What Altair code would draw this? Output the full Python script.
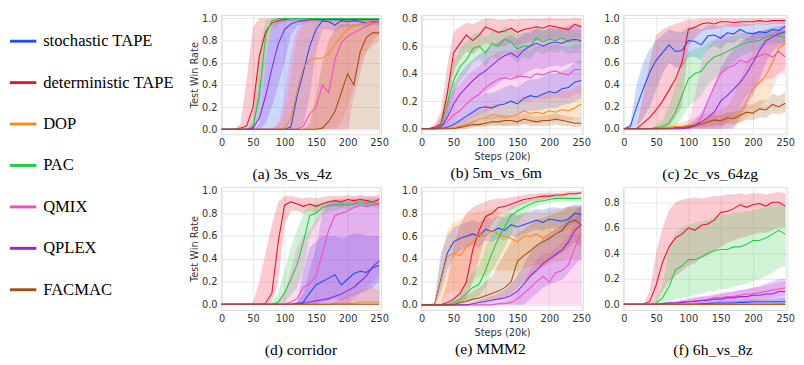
import altair as alt
import pandas as pd

SERIES = ["stochastic TAPE", "deterministic TAPE", "DOP", "PAC", "QMIX", "QPLEX", "FACMAC"]
KEYS = ["blue", "red", "orange", "green", "pink", "purple", "brown"]
COLORS = ["#1f4ff0", "#e8112d", "#ff8a1f", "#27c944", "#f04fc1", "#8a2be2", "#a24f15"]
STEPS = [0, 10, 20, 30, 40, 50, 60, 70, 80, 90, 100, 110, 120, 130, 140, 150, 160, 170, 180, 190, 200, 210, 220, 230, 240, 250]
X_TICKS = [0, 50, 100, 150, 200, 250]

# ---------------- (a) 3s_vs_4z ----------------
a_blue = [0, 0, 0, 0, 0, 0, 0, 0, 0, 0, 0, 0.02, 0.3, 0.52, 0.75, 0.9, 0.98, 0.97, 0.94, 0.98, 0.97, 0.98, 0.97, 0.96, 0.97, 0.97]
a_blue_lo = [0, 0, 0, 0, 0, 0, 0, 0, 0, 0, 0, 0, 0, 0.05, 0.3, 0.7, 0.9, 0.9, 0.88, 0.92, 0.92, 0.93, 0.93, 0.93, 0.94, 0.94]
a_blue_hi = [0, 0, 0, 0, 0, 0, 0.05, 0.6, 0.95, 1, 1, 1, 1, 1, 1, 1, 1, 1, 1, 1, 1, 1, 1, 1, 1, 1]
a_red = [0, 0, 0, 0.01, 0.03, 0.2, 0.66, 0.88, 0.96, 0.98, 0.99, 1, 1, 1, 1, 1, 1, 1, 1, 1, 1, 1, 1, 1, 1, 1]
a_red_lo = [0, 0, 0, 0, 0, 0, 0.3, 0.7, 0.9, 0.95, 0.97, 0.98, 0.98, 0.98, 0.98, 0.98, 0.98, 0.98, 0.98, 0.98, 0.98, 0.98, 0.98, 0.98, 0.98, 0.98]
a_red_hi = [0, 0, 0, 0.05, 0.45, 0.92, 1, 1, 1, 1, 1, 1, 1, 1, 1, 1, 1, 1, 1, 1, 1, 1, 1, 1, 1, 1]
a_orange = [0, 0, 0, 0, 0, 0, 0, 0, 0, 0, 0.01, 0.1, 0.35, 0.56, 0.62, 0.64, 0.64, 0.68, 0.76, 0.84, 0.9, 0.93, 0.95, 0.96, 0.96, 0.95]
a_orange_lo = [0, 0, 0, 0, 0, 0, 0, 0, 0, 0, 0, 0, 0, 0, 0, 0, 0, 0, 0, 0.05, 0.2, 0.4, 0.6, 0.7, 0.75, 0.8]
a_orange_hi = [0, 0, 0, 0, 0, 0, 0, 0, 0, 0.05, 0.15, 0.5, 0.85, 0.95, 1, 1, 1, 1, 1, 1, 1, 1, 1, 1, 1, 1]
a_green = [0, 0, 0, 0, 0, 0.02, 0.3, 0.85, 0.98, 1, 1, 1, 1, 1, 1, 1, 1, 1, 1, 1, 1, 1, 1, 1, 1, 1]
a_green_lo = [0, 0, 0, 0, 0, 0, 0.1, 0.6, 0.93, 0.98, 0.98, 0.98, 0.98, 0.98, 0.98, 0.98, 0.98, 0.98, 0.98, 0.98, 0.98, 0.98, 0.98, 0.98, 0.98, 0.98]
a_green_hi = [0, 0, 0, 0, 0, 0.1, 0.7, 0.98, 1, 1, 1, 1, 1, 1, 1, 1, 1, 1, 1, 1, 1, 1, 1, 1, 1, 1]
a_pink = [0, 0, 0, 0, 0, 0, 0, 0, 0, 0, 0, 0, 0, 0.03, 0.14, 0.2, 0.4, 0.33, 0.63, 0.78, 0.84, 0.87, 0.9, 0.93, 0.96, 0.97]
a_pink_lo = [0, 0, 0, 0, 0, 0, 0, 0, 0, 0, 0, 0, 0, 0, 0, 0, 0, 0, 0, 0, 0, 0.3, 0.5, 0.7, 0.8, 0.85]
a_pink_hi = [0, 0, 0, 0, 0, 0, 0, 0, 0, 0.05, 0.3, 0.7, 0.9, 0.98, 0.98, 0.98, 0.98, 0.98, 0.98, 0.98, 0.98, 0.98, 0.98, 0.98, 0.98, 0.98]
a_purple = [0, 0, 0, 0, 0, 0.01, 0.1, 0.3, 0.55, 0.77, 0.9, 0.95, 0.97, 0.98, 0.99, 0.99, 0.99, 0.99, 0.99, 0.99, 0.99, 0.99, 0.99, 0.99, 0.99, 0.99]
a_purple_lo = [0, 0, 0, 0, 0, 0, 0, 0.05, 0.2, 0.4, 0.6, 0.85, 0.93, 0.95, 0.97, 0.97, 0.97, 0.97, 0.97, 0.97, 0.97, 0.97, 0.97, 0.97, 0.97, 0.97]
a_purple_hi = [0, 0, 0, 0, 0, 0.05, 0.4, 0.7, 0.9, 0.98, 1, 1, 1, 1, 1, 1, 1, 1, 1, 1, 1, 1, 1, 1, 1, 1]
a_brown = [0, 0, 0, 0, 0, 0, 0, 0, 0, 0, 0, 0, 0, 0, 0, 0, 0.01, 0.07, 0.16, 0.33, 0.5, 0.4, 0.7, 0.83, 0.87, 0.87]
a_brown_lo = [0, 0, 0, 0, 0, 0, 0, 0, 0, 0, 0, 0, 0, 0, 0, 0, 0, 0, 0, 0, 0, 0, 0, 0, 0, 0]
a_brown_hi = [0, 0, 0, 0, 0, 0, 0, 0, 0, 0, 0, 0, 0, 0, 0.05, 0.3, 0.6, 0.8, 0.9, 0.95, 0.95, 0.95, 0.95, 0.95, 0.95, 0.95]

# ---------------- (b) 5m_vs_6m ----------------
b_blue = [0, 0, 0, 0, 0.01, 0.03, 0.06, 0.09, 0.12, 0.15, 0.16, 0.15, 0.17, 0.18, 0.2, 0.18, 0.22, 0.24, 0.23, 0.25, 0.27, 0.26, 0.29, 0.3, 0.34, 0.35]
b_blue_lo = [0, 0, 0, 0, 0, 0, 0.01, 0.02, 0.04, 0.06, 0.07, 0.07, 0.08, 0.09, 0.1, 0.1, 0.12, 0.13, 0.13, 0.14, 0.15, 0.15, 0.17, 0.18, 0.2, 0.22]
b_blue_hi = [0, 0, 0, 0.01, 0.03, 0.07, 0.12, 0.16, 0.2, 0.24, 0.26, 0.26, 0.28, 0.3, 0.32, 0.3, 0.34, 0.36, 0.36, 0.38, 0.4, 0.4, 0.42, 0.44, 0.48, 0.5]
b_red = [0, 0, 0.01, 0.03, 0.25, 0.55, 0.62, 0.68, 0.64, 0.68, 0.74, 0.72, 0.7, 0.71, 0.73, 0.7, 0.72, 0.73, 0.74, 0.73, 0.75, 0.74, 0.73, 0.72, 0.76, 0.74]
b_red_lo = [0, 0, 0, 0, 0.1, 0.42, 0.5, 0.56, 0.54, 0.58, 0.62, 0.6, 0.6, 0.6, 0.62, 0.6, 0.62, 0.63, 0.64, 0.64, 0.65, 0.65, 0.65, 0.64, 0.66, 0.65]
b_red_hi = [0, 0, 0.03, 0.12, 0.45, 0.7, 0.74, 0.77, 0.76, 0.78, 0.8, 0.8, 0.79, 0.79, 0.8, 0.79, 0.8, 0.8, 0.8, 0.8, 0.81, 0.8, 0.8, 0.8, 0.81, 0.8]
b_orange = [0, 0, 0, 0, 0, 0.01, 0.02, 0.03, 0.05, 0.07, 0.08, 0.1, 0.1, 0.08, 0.09, 0.1, 0.13, 0.11, 0.12, 0.11, 0.13, 0.12, 0.14, 0.13, 0.15, 0.18]
b_orange_lo = [0, 0, 0, 0, 0, 0, 0, 0, 0.01, 0.02, 0.02, 0.03, 0.03, 0.02, 0.03, 0.03, 0.04, 0.04, 0.04, 0.04, 0.05, 0.05, 0.06, 0.06, 0.07, 0.08]
b_orange_hi = [0, 0, 0, 0, 0.01, 0.03, 0.05, 0.07, 0.1, 0.13, 0.15, 0.18, 0.18, 0.17, 0.18, 0.2, 0.24, 0.22, 0.24, 0.24, 0.26, 0.25, 0.28, 0.27, 0.3, 0.32]
b_green = [0, 0, 0, 0.02, 0.18, 0.35, 0.45, 0.5, 0.58, 0.6, 0.55, 0.62, 0.6, 0.65, 0.63, 0.58, 0.6, 0.6, 0.66, 0.63, 0.65, 0.64, 0.66, 0.63, 0.64, 0.63]
b_green_lo = [0, 0, 0, 0, 0.08, 0.25, 0.35, 0.4, 0.48, 0.5, 0.45, 0.52, 0.5, 0.55, 0.52, 0.48, 0.52, 0.5, 0.56, 0.54, 0.56, 0.55, 0.57, 0.54, 0.55, 0.55]
b_green_hi = [0, 0, 0.01, 0.06, 0.3, 0.48, 0.58, 0.63, 0.68, 0.7, 0.66, 0.71, 0.7, 0.74, 0.72, 0.68, 0.7, 0.69, 0.74, 0.72, 0.73, 0.72, 0.74, 0.72, 0.72, 0.71]
b_pink = [0, 0, 0, 0.01, 0.05, 0.1, 0.13, 0.18, 0.22, 0.25, 0.3, 0.33, 0.36, 0.37, 0.36, 0.38, 0.38, 0.37, 0.4, 0.39, 0.41, 0.42, 0.4, 0.39, 0.43, 0.43]
b_pink_lo = [0, 0, 0, 0, 0, 0.02, 0.03, 0.05, 0.08, 0.1, 0.12, 0.15, 0.17, 0.18, 0.18, 0.2, 0.2, 0.2, 0.22, 0.21, 0.22, 0.23, 0.22, 0.22, 0.25, 0.25]
b_pink_hi = [0, 0, 0.02, 0.08, 0.2, 0.28, 0.32, 0.38, 0.42, 0.45, 0.5, 0.53, 0.56, 0.57, 0.56, 0.58, 0.58, 0.57, 0.6, 0.59, 0.61, 0.62, 0.6, 0.59, 0.62, 0.62]
b_purple = [0, 0, 0, 0.01, 0.08, 0.18, 0.25, 0.3, 0.35, 0.39, 0.42, 0.46, 0.5, 0.53, 0.55, 0.52, 0.57, 0.6, 0.62, 0.6, 0.62, 0.63, 0.62, 0.64, 0.65, 0.64]
b_purple_lo = [0, 0, 0, 0, 0.02, 0.07, 0.12, 0.16, 0.2, 0.24, 0.27, 0.3, 0.33, 0.36, 0.38, 0.36, 0.4, 0.42, 0.44, 0.43, 0.45, 0.46, 0.45, 0.47, 0.48, 0.47]
b_purple_hi = [0, 0, 0.01, 0.04, 0.18, 0.32, 0.4, 0.46, 0.5, 0.54, 0.57, 0.6, 0.63, 0.66, 0.68, 0.65, 0.69, 0.71, 0.73, 0.71, 0.73, 0.74, 0.73, 0.75, 0.76, 0.75]
b_brown = [0, 0, 0, 0, 0, 0, 0.01, 0.02, 0.03, 0.03, 0.04, 0.05, 0.05, 0.06, 0.06, 0.05, 0.07, 0.06, 0.05, 0.06, 0.06, 0.07, 0.06, 0.05, 0.04, 0.04]
b_brown_lo = [0, 0, 0, 0, 0, 0, 0, 0, 0.01, 0.01, 0.01, 0.02, 0.02, 0.02, 0.02, 0.02, 0.03, 0.02, 0.02, 0.02, 0.02, 0.03, 0.02, 0.02, 0.01, 0.01]
b_brown_hi = [0, 0, 0, 0, 0, 0.01, 0.02, 0.04, 0.05, 0.06, 0.07, 0.08, 0.09, 0.1, 0.1, 0.09, 0.11, 0.1, 0.09, 0.1, 0.1, 0.11, 0.1, 0.09, 0.08, 0.08]

# ---------------- (c) 2c_vs_64zg ----------------
c_blue = [0, 0.02, 0.2, 0.36, 0.51, 0.62, 0.69, 0.76, 0.7, 0.71, 0.8, 0.79, 0.76, 0.84, 0.85, 0.82, 0.87, 0.86, 0.9, 0.87, 0.86, 0.88, 0.87, 0.9, 0.89, 0.93]
c_blue_lo = [0, 0, 0.02, 0.1, 0.2, 0.35, 0.5, 0.6, 0.55, 0.55, 0.65, 0.65, 0.62, 0.72, 0.75, 0.72, 0.78, 0.78, 0.82, 0.8, 0.8, 0.82, 0.82, 0.84, 0.84, 0.86]
c_blue_hi = [0, 0.05, 0.4, 0.6, 0.72, 0.8, 0.85, 0.9, 0.88, 0.88, 0.92, 0.92, 0.9, 0.94, 0.94, 0.93, 0.95, 0.95, 0.96, 0.95, 0.95, 0.96, 0.95, 0.96, 0.96, 0.97]
c_red = [0, 0, 0, 0.05, 0.1, 0.17, 0.25, 0.35, 0.45, 0.6, 0.9, 0.92, 0.95, 0.96, 0.95, 0.97, 0.97, 0.96, 0.97, 0.97, 0.97, 0.98, 0.97, 0.98, 0.98, 0.98]
c_red_lo = [0, 0, 0, 0, 0, 0, 0, 0.02, 0.1, 0.2, 0.75, 0.82, 0.88, 0.9, 0.9, 0.92, 0.93, 0.92, 0.93, 0.93, 0.94, 0.95, 0.94, 0.95, 0.95, 0.95]
c_red_hi = [0, 0, 0.02, 0.3, 0.6, 0.85, 0.9, 0.93, 0.95, 0.97, 0.99, 0.99, 1, 1, 1, 1, 1, 1, 1, 1, 1, 1, 1, 1, 1, 1]
c_orange = [0, 0, 0, 0, 0, 0, 0.01, 0.01, 0.02, 0.02, 0.03, 0.04, 0.05, 0.06, 0.07, 0.08, 0.08, 0.1, 0.15, 0.25, 0.36, 0.42, 0.48, 0.6, 0.73, 0.77]
c_orange_lo = [0, 0, 0, 0, 0, 0, 0, 0, 0, 0, 0, 0, 0, 0, 0, 0, 0, 0.02, 0.05, 0.1, 0.15, 0.2, 0.25, 0.35, 0.5, 0.55]
c_orange_hi = [0, 0, 0, 0, 0, 0.01, 0.02, 0.03, 0.05, 0.06, 0.08, 0.1, 0.12, 0.14, 0.16, 0.18, 0.2, 0.3, 0.45, 0.6, 0.7, 0.75, 0.8, 0.85, 0.9, 0.92]
c_green = [0, 0, 0, 0, 0, 0.01, 0.02, 0.05, 0.15, 0.3, 0.45, 0.5, 0.52, 0.6, 0.65, 0.67, 0.7, 0.73, 0.76, 0.78, 0.79, 0.8, 0.83, 0.85, 0.84, 0.83]
c_green_lo = [0, 0, 0, 0, 0, 0, 0, 0, 0.02, 0.1, 0.2, 0.25, 0.3, 0.4, 0.45, 0.5, 0.55, 0.6, 0.65, 0.68, 0.7, 0.72, 0.75, 0.77, 0.77, 0.76]
c_green_hi = [0, 0, 0, 0, 0, 0.03, 0.08, 0.2, 0.4, 0.6, 0.7, 0.72, 0.74, 0.78, 0.8, 0.8, 0.82, 0.84, 0.86, 0.87, 0.87, 0.88, 0.9, 0.91, 0.9, 0.9]
c_pink = [0, 0, 0, 0, 0, 0, 0, 0, 0, 0, 0, 0.02, 0.1, 0.25, 0.38, 0.5, 0.55, 0.57, 0.62, 0.6, 0.64, 0.66, 0.68, 0.65, 0.7, 0.65]
c_pink_lo = [0, 0, 0, 0, 0, 0, 0, 0, 0, 0, 0, 0, 0, 0, 0, 0, 0.05, 0.1, 0.2, 0.3, 0.35, 0.4, 0.45, 0.45, 0.5, 0.5]
c_pink_hi = [0, 0, 0, 0, 0, 0, 0, 0, 0, 0.02, 0.05, 0.3, 0.6, 0.75, 0.8, 0.85, 0.86, 0.86, 0.88, 0.87, 0.88, 0.88, 0.89, 0.88, 0.9, 0.88]
c_purple = [0, 0, 0, 0, 0, 0, 0, 0, 0, 0, 0.01, 0.03, 0.06, 0.1, 0.15, 0.25, 0.3, 0.36, 0.42, 0.5, 0.6, 0.71, 0.8, 0.83, 0.86, 0.88]
c_purple_lo = [0, 0, 0, 0, 0, 0, 0, 0, 0, 0, 0, 0, 0, 0, 0, 0, 0, 0, 0.1, 0.2, 0.3, 0.45, 0.6, 0.7, 0.75, 0.78]
c_purple_hi = [0, 0, 0, 0, 0, 0, 0, 0, 0, 0.01, 0.03, 0.08, 0.15, 0.25, 0.4, 0.55, 0.65, 0.72, 0.78, 0.82, 0.85, 0.88, 0.9, 0.92, 0.93, 0.94]
c_brown = [0, 0, 0, 0, 0, 0, 0, 0, 0.01, 0.01, 0.02, 0.03, 0.04, 0.06, 0.08, 0.07, 0.1, 0.09, 0.12, 0.15, 0.14, 0.18, 0.17, 0.22, 0.2, 0.23]
c_brown_lo = [0, 0, 0, 0, 0, 0, 0, 0, 0, 0, 0, 0.01, 0.01, 0.02, 0.03, 0.03, 0.05, 0.04, 0.06, 0.08, 0.08, 0.1, 0.1, 0.14, 0.13, 0.15]
c_brown_hi = [0, 0, 0, 0, 0, 0, 0, 0, 0.02, 0.03, 0.04, 0.05, 0.07, 0.1, 0.13, 0.12, 0.15, 0.15, 0.18, 0.22, 0.22, 0.26, 0.26, 0.32, 0.3, 0.33]

# ---------------- (d) corridor ----------------
d_blue = [0, 0, 0, 0, 0, 0, 0, 0, 0, 0, 0, 0, 0, 0.02, 0.1, 0.17, 0.2, 0.23, 0.26, 0.17, 0.22, 0.27, 0.29, 0.28, 0.32, 0.34]
d_blue_lo = [0, 0, 0, 0, 0, 0, 0, 0, 0, 0, 0, 0, 0, 0, 0, 0, 0.02, 0.03, 0.05, 0.03, 0.05, 0.08, 0.1, 0.12, 0.15, 0.2]
d_blue_hi = [0, 0, 0, 0, 0, 0, 0, 0, 0, 0, 0, 0, 0.02, 0.3, 0.5, 0.55, 0.6, 0.6, 0.6, 0.58, 0.6, 0.62, 0.62, 0.6, 0.6, 0.6]
d_red = [0, 0, 0, 0, 0, 0, 0, 0.01, 0.1, 0.55, 0.87, 0.9, 0.88, 0.86, 0.88, 0.86, 0.88, 0.9, 0.91, 0.9, 0.92, 0.91, 0.92, 0.91, 0.9, 0.92]
d_red_lo = [0, 0, 0, 0, 0, 0, 0, 0, 0.02, 0.2, 0.7, 0.82, 0.82, 0.8, 0.82, 0.8, 0.83, 0.85, 0.86, 0.85, 0.87, 0.87, 0.88, 0.87, 0.86, 0.88]
d_red_hi = [0, 0, 0, 0, 0, 0.02, 0.2, 0.45, 0.7, 0.9, 0.95, 0.95, 0.94, 0.93, 0.94, 0.93, 0.94, 0.95, 0.95, 0.95, 0.96, 0.95, 0.96, 0.95, 0.95, 0.96]
d_orange = [0, 0, 0, 0, 0, 0, 0, 0, 0, 0, 0, 0, 0, 0, 0, 0, 0, 0, 0.01, 0.01, 0.01, 0.01, 0.02, 0.02, 0.02, 0.02]
d_orange_lo = [0, 0, 0, 0, 0, 0, 0, 0, 0, 0, 0, 0, 0, 0, 0, 0, 0, 0, 0, 0, 0, 0, 0, 0, 0, 0]
d_orange_hi = [0, 0, 0, 0, 0, 0, 0, 0, 0, 0, 0, 0, 0, 0, 0, 0, 0, 0, 0.03, 0.05, 0.08, 0.1, 0.12, 0.15, 0.15, 0.12]
d_green = [0, 0, 0, 0, 0, 0, 0, 0, 0, 0.02, 0.1, 0.22, 0.35, 0.55, 0.78, 0.8, 0.85, 0.87, 0.87, 0.88, 0.87, 0.88, 0.9, 0.88, 0.9, 0.87]
d_green_lo = [0, 0, 0, 0, 0, 0, 0, 0, 0, 0, 0.02, 0.08, 0.15, 0.3, 0.6, 0.7, 0.78, 0.82, 0.82, 0.84, 0.83, 0.84, 0.86, 0.84, 0.86, 0.83]
d_green_hi = [0, 0, 0, 0, 0, 0, 0, 0, 0.02, 0.1, 0.3, 0.5, 0.65, 0.8, 0.88, 0.88, 0.9, 0.91, 0.91, 0.92, 0.91, 0.92, 0.93, 0.92, 0.93, 0.91]
d_pink = [0, 0, 0, 0, 0, 0, 0, 0, 0, 0, 0, 0.02, 0.05, 0.15, 0.18, 0.25, 0.45, 0.65, 0.78, 0.8, 0.82, 0.85, 0.87, 0.86, 0.87, 0.88]
d_pink_lo = [0, 0, 0, 0, 0, 0, 0, 0, 0, 0, 0, 0, 0, 0, 0, 0, 0, 0, 0, 0, 0, 0.05, 0.1, 0.15, 0.2, 0.25]
d_pink_hi = [0, 0, 0, 0, 0, 0, 0, 0, 0, 0.02, 0.1, 0.3, 0.5, 0.6, 0.65, 0.75, 0.85, 0.9, 0.92, 0.93, 0.93, 0.94, 0.94, 0.94, 0.94, 0.94]
d_purple = [0, 0, 0, 0, 0, 0, 0, 0, 0, 0, 0, 0, 0.01, 0.01, 0.02, 0.03, 0.04, 0.05, 0.07, 0.09, 0.12, 0.15, 0.2, 0.25, 0.33, 0.38]
d_purple_lo = [0, 0, 0, 0, 0, 0, 0, 0, 0, 0, 0, 0, 0, 0, 0, 0, 0, 0, 0, 0, 0, 0, 0, 0, 0, 0]
d_purple_hi = [0, 0, 0, 0, 0, 0, 0, 0, 0, 0, 0, 0, 0.02, 0.1, 0.3, 0.5, 0.8, 0.88, 0.9, 0.9, 0.9, 0.9, 0.9, 0.9, 0.9, 0.9]
d_brown = [0, 0, 0, 0, 0, 0, 0, 0, 0, 0, 0, 0, 0, 0, 0, 0, 0, 0, 0, 0, 0, 0, 0, 0, 0, 0]
d_brown_lo = [0, 0, 0, 0, 0, 0, 0, 0, 0, 0, 0, 0, 0, 0, 0, 0, 0, 0, 0, 0, 0, 0, 0, 0, 0, 0]
d_brown_hi = [0, 0, 0, 0, 0, 0, 0, 0, 0, 0, 0, 0, 0, 0, 0, 0, 0, 0, 0, 0, 0, 0, 0, 0, 0, 0]

# ---------------- (e) MMM2 ----------------
e_blue = [0, 0, 0, 0.22, 0.45, 0.55, 0.58, 0.6, 0.62, 0.6, 0.66, 0.64, 0.67, 0.65, 0.7, 0.68, 0.7, 0.72, 0.74, 0.72, 0.75, 0.74, 0.73, 0.75, 0.8, 0.79]
e_blue_lo = [0, 0, 0, 0.1, 0.3, 0.42, 0.47, 0.5, 0.52, 0.5, 0.56, 0.55, 0.58, 0.56, 0.6, 0.6, 0.62, 0.64, 0.66, 0.65, 0.67, 0.67, 0.66, 0.68, 0.72, 0.72]
e_blue_hi = [0, 0, 0.02, 0.45, 0.6, 0.68, 0.7, 0.72, 0.74, 0.72, 0.77, 0.75, 0.78, 0.76, 0.8, 0.78, 0.8, 0.82, 0.84, 0.83, 0.85, 0.85, 0.84, 0.86, 0.88, 0.87]
e_red = [0, 0, 0, 0, 0.02, 0.05, 0.1, 0.2, 0.48, 0.65, 0.77, 0.8, 0.85, 0.86, 0.88, 0.9, 0.92, 0.93, 0.94, 0.95, 0.95, 0.96, 0.96, 0.97, 0.97, 0.98]
e_red_lo = [0, 0, 0, 0, 0, 0, 0.02, 0.05, 0.2, 0.4, 0.6, 0.7, 0.78, 0.8, 0.83, 0.86, 0.88, 0.9, 0.91, 0.92, 0.93, 0.94, 0.94, 0.95, 0.95, 0.96]
e_red_hi = [0, 0, 0, 0.02, 0.2, 0.5, 0.7, 0.8, 0.85, 0.88, 0.9, 0.92, 0.93, 0.93, 0.94, 0.95, 0.96, 0.97, 0.97, 0.98, 0.98, 0.98, 0.98, 0.99, 0.99, 0.99]
e_orange = [0, 0, 0, 0.2, 0.42, 0.45, 0.43, 0.5, 0.55, 0.62, 0.6, 0.65, 0.62, 0.6, 0.58, 0.55, 0.6, 0.6, 0.62, 0.58, 0.62, 0.65, 0.64, 0.67, 0.67, 0.66]
e_orange_lo = [0, 0, 0, 0.02, 0.1, 0.12, 0.12, 0.15, 0.2, 0.25, 0.25, 0.3, 0.3, 0.3, 0.3, 0.3, 0.32, 0.33, 0.35, 0.33, 0.36, 0.38, 0.38, 0.4, 0.4, 0.4]
e_orange_hi = [0, 0, 0.02, 0.4, 0.65, 0.72, 0.74, 0.78, 0.8, 0.82, 0.82, 0.84, 0.82, 0.8, 0.8, 0.78, 0.8, 0.8, 0.82, 0.8, 0.82, 0.84, 0.84, 0.86, 0.86, 0.86]
e_green = [0, 0, 0, 0, 0, 0.02, 0.05, 0.1, 0.15, 0.18, 0.3, 0.45, 0.58, 0.68, 0.78, 0.82, 0.85, 0.88, 0.9, 0.91, 0.92, 0.93, 0.93, 0.93, 0.93, 0.93]
e_green_lo = [0, 0, 0, 0, 0, 0, 0.01, 0.03, 0.06, 0.08, 0.15, 0.28, 0.4, 0.5, 0.62, 0.72, 0.78, 0.83, 0.86, 0.88, 0.89, 0.9, 0.9, 0.9, 0.9, 0.9]
e_green_hi = [0, 0, 0, 0, 0.01, 0.05, 0.1, 0.2, 0.28, 0.35, 0.5, 0.62, 0.72, 0.8, 0.86, 0.88, 0.9, 0.92, 0.93, 0.94, 0.95, 0.95, 0.95, 0.95, 0.95, 0.95]
e_pink = [0, 0, 0, 0, 0, 0, 0, 0, 0, 0, 0, 0, 0.01, 0.01, 0.02, 0.05, 0.1, 0.15, 0.2, 0.25, 0.2, 0.28, 0.3, 0.35, 0.5, 0.62]
e_pink_lo = [0, 0, 0, 0, 0, 0, 0, 0, 0, 0, 0, 0, 0, 0, 0, 0, 0, 0, 0, 0, 0, 0, 0, 0, 0, 0]
e_pink_hi = [0, 0, 0, 0, 0, 0, 0, 0, 0, 0, 0, 0, 0.02, 0.03, 0.05, 0.12, 0.2, 0.3, 0.4, 0.45, 0.45, 0.5, 0.55, 0.6, 0.75, 0.85]
e_purple = [0, 0, 0, 0, 0, 0, 0, 0, 0.01, 0.02, 0.03, 0.04, 0.05, 0.06, 0.08, 0.12, 0.18, 0.25, 0.3, 0.36, 0.4, 0.44, 0.48, 0.55, 0.65, 0.7]
e_purple_lo = [0, 0, 0, 0, 0, 0, 0, 0, 0, 0, 0, 0, 0, 0, 0, 0, 0, 0.05, 0.1, 0.15, 0.18, 0.2, 0.22, 0.28, 0.35, 0.4]
e_purple_hi = [0, 0, 0, 0, 0, 0, 0, 0, 0.02, 0.04, 0.06, 0.08, 0.1, 0.13, 0.18, 0.25, 0.35, 0.45, 0.52, 0.58, 0.62, 0.66, 0.7, 0.75, 0.82, 0.88]
e_brown = [0, 0, 0, 0, 0, 0, 0.02, 0.03, 0.05, 0.06, 0.08, 0.1, 0.12, 0.15, 0.2, 0.38, 0.43, 0.47, 0.52, 0.55, 0.58, 0.62, 0.65, 0.72, 0.74, 0.7]
e_brown_lo = [0, 0, 0, 0, 0, 0, 0, 0.01, 0.02, 0.02, 0.03, 0.04, 0.05, 0.06, 0.08, 0.15, 0.2, 0.25, 0.3, 0.33, 0.38, 0.42, 0.45, 0.5, 0.55, 0.5]
e_brown_hi = [0, 0, 0, 0, 0, 0.02, 0.05, 0.08, 0.12, 0.15, 0.2, 0.25, 0.35, 0.45, 0.55, 0.62, 0.66, 0.7, 0.74, 0.76, 0.78, 0.8, 0.82, 0.85, 0.86, 0.85]

# ---------------- (f) 6h_vs_8z ----------------
f_blue = [0, 0, 0, 0, 0, 0, 0, 0, 0, 0, 0, 0, 0.005, 0.005, 0.01, 0.01, 0.01, 0.01, 0.015, 0.015, 0.02, 0.02, 0.02, 0.02, 0.02, 0.02]
f_blue_lo = [0, 0, 0, 0, 0, 0, 0, 0, 0, 0, 0, 0, 0, 0, 0, 0, 0, 0, 0, 0, 0, 0, 0, 0, 0, 0]
f_blue_hi = [0, 0, 0, 0, 0, 0, 0, 0, 0, 0, 0.01, 0.01, 0.02, 0.02, 0.02, 0.03, 0.03, 0.03, 0.03, 0.04, 0.04, 0.04, 0.04, 0.04, 0.05, 0.05]
f_red = [0, 0, 0, 0, 0.02, 0.15, 0.33, 0.45, 0.52, 0.55, 0.6, 0.58, 0.62, 0.63, 0.66, 0.72, 0.73, 0.75, 0.78, 0.76, 0.78, 0.79, 0.77, 0.8, 0.8, 0.77]
f_red_lo = [0, 0, 0, 0, 0, 0.02, 0.1, 0.18, 0.22, 0.26, 0.3, 0.32, 0.36, 0.38, 0.42, 0.45, 0.48, 0.5, 0.52, 0.53, 0.55, 0.56, 0.56, 0.58, 0.6, 0.6]
f_red_hi = [0, 0, 0, 0, 0.1, 0.4, 0.6, 0.74, 0.8, 0.82, 0.83, 0.84, 0.83, 0.84, 0.85, 0.85, 0.86, 0.86, 0.87, 0.86, 0.87, 0.87, 0.86, 0.87, 0.88, 0.87]
f_orange = [0, 0, 0, 0, 0, 0, 0, 0, 0, 0, 0, 0, 0, 0, 0, 0, 0, 0, 0, 0, 0, 0, 0, 0, 0, 0]
f_orange_lo = [0, 0, 0, 0, 0, 0, 0, 0, 0, 0, 0, 0, 0, 0, 0, 0, 0, 0, 0, 0, 0, 0, 0, 0, 0, 0]
f_orange_hi = [0, 0, 0, 0, 0, 0, 0, 0, 0, 0, 0, 0, 0, 0, 0, 0, 0, 0, 0, 0, 0, 0, 0, 0, 0, 0]
f_green = [0, 0, 0, 0, 0, 0.01, 0.05, 0.14, 0.27, 0.3, 0.35, 0.35, 0.37, 0.4, 0.42, 0.43, 0.43, 0.45, 0.45, 0.47, 0.5, 0.5, 0.52, 0.55, 0.58, 0.55]
f_green_lo = [0, 0, 0, 0, 0, 0, 0, 0.02, 0.04, 0.05, 0.06, 0.07, 0.08, 0.1, 0.1, 0.12, 0.12, 0.14, 0.15, 0.16, 0.18, 0.2, 0.22, 0.25, 0.28, 0.3]
f_green_hi = [0, 0, 0, 0, 0, 0.03, 0.15, 0.45, 0.55, 0.6, 0.62, 0.64, 0.65, 0.66, 0.68, 0.7, 0.7, 0.72, 0.72, 0.73, 0.74, 0.75, 0.76, 0.77, 0.78, 0.78]
f_pink = [0, 0, 0, 0, 0, 0, 0.005, 0.01, 0.01, 0.02, 0.02, 0.03, 0.03, 0.04, 0.05, 0.05, 0.06, 0.06, 0.07, 0.08, 0.08, 0.09, 0.1, 0.11, 0.12, 0.13]
f_pink_lo = [0, 0, 0, 0, 0, 0, 0, 0, 0, 0, 0, 0, 0, 0, 0, 0, 0.01, 0.01, 0.02, 0.02, 0.03, 0.03, 0.04, 0.05, 0.06, 0.07]
f_pink_hi = [0, 0, 0, 0, 0, 0, 0.01, 0.02, 0.03, 0.04, 0.05, 0.06, 0.06, 0.07, 0.08, 0.09, 0.1, 0.1, 0.11, 0.12, 0.13, 0.14, 0.15, 0.16, 0.17, 0.18]
f_purple = [0, 0, 0, 0, 0, 0, 0.005, 0.01, 0.01, 0.015, 0.02, 0.02, 0.03, 0.03, 0.04, 0.04, 0.05, 0.05, 0.06, 0.06, 0.07, 0.07, 0.08, 0.08, 0.1, 0.1]
f_purple_lo = [0, 0, 0, 0, 0, 0, 0, 0, 0, 0, 0, 0, 0, 0, 0, 0, 0, 0, 0, 0, 0, 0, 0, 0, 0, 0]
f_purple_hi = [0, 0, 0, 0, 0, 0, 0.01, 0.02, 0.02, 0.03, 0.04, 0.05, 0.06, 0.06, 0.07, 0.08, 0.09, 0.1, 0.11, 0.12, 0.13, 0.14, 0.16, 0.18, 0.2, 0.2]
f_brown = [0, 0, 0, 0, 0, 0, 0, 0, 0, 0, 0, 0, 0, 0, 0, 0, 0, 0, 0, 0, 0, 0, 0, 0, 0, 0]
f_brown_lo = [0, 0, 0, 0, 0, 0, 0, 0, 0, 0, 0, 0, 0, 0, 0, 0, 0, 0, 0, 0, 0, 0, 0, 0, 0, 0]
f_brown_hi = [0, 0, 0, 0, 0, 0, 0, 0, 0, 0, 0, 0, 0, 0, 0, 0, 0, 0, 0, 0, 0, 0, 0, 0, 0, 0]

CAPTIONS = {"a": "(a) 3s_vs_4z", "b": "(b) 5m_vs_6m", "c": "(c) 2c_vs_64zg",
            "d": "(d) corridor", "e": "(e) MMM2", "f": "(f) 6h_vs_8z"}

TICKS_10 = [0, 0.2, 0.4, 0.6, 0.8, 1.0]
TICKS_08 = [0, 0.2, 0.4, 0.6, 0.8]

SANS = "DejaVu Sans"
SERIF = "Liberation Serif"
GRID = "#e6e6e6"

color_scale = alt.Scale(domain=SERIES, range=COLORS)


def panel_frame(p):
    rows = []
    for name, key in zip(SERIES, KEYS):
        m = globals()[f"{p}_{key}"]
        lo = globals()[f"{p}_{key}_lo"]
        hi = globals()[f"{p}_{key}_hi"]
        for s, mv, lv, hv in zip(STEPS, m, lo, hi):
            rows.append({"step": s, "series": name, "mean": mv, "lo": lv, "hi": hv})
    return pd.DataFrame(rows)


def panel(p, ydom, yticks, w, h, ytitle, xtitle, cap_offset, cap_dx):
    df = panel_frame(p)
    x_axis_kw = dict(values=X_TICKS, grid=True, ticks=False, domain=False, labelPadding=4,
                     labelFont=SANS, labelFontSize=10, labelColor="#333333", gridColor=GRID,
                     titleFont=SANS, titleFontSize=10, titleFontWeight="normal", titleColor="#333333",
                     titlePadding=4, labelFlush=False, labelOverlap=False)
    y_axis_kw = dict(values=yticks, format=".1f", grid=True, ticks=False, domain=False, labelPadding=4,
                     labelFont=SANS, labelFontSize=10, labelColor="#333333", gridColor=GRID,
                     titleFont=SANS, titleFontSize=10, titleFontWeight="normal", titleColor="#333333",
                     titlePadding=2, labelOverlap=False, labelFlush=False, tickCount=len(yticks))
    xscale = alt.Scale(domain=[-1, 253], nice=False, zero=False)
    yscale = alt.Scale(domain=ydom, nice=False, zero=False)
    xenc = alt.X("step:Q", scale=xscale, axis=alt.Axis(title=xtitle, **x_axis_kw))
    color = alt.Color("series:N", scale=color_scale, legend=None)
    base = alt.Chart(df)
    band = base.mark_area(opacity=0.22, clip=True).encode(
        x=xenc,
        y=alt.Y("lo:Q", scale=yscale, axis=alt.Axis(title=ytitle, **y_axis_kw)),
        y2="hi:Q",
        color=color,
    )
    line = base.mark_line(strokeWidth=1.1, clip=True).encode(
        x=xenc,
        y=alt.Y("mean:Q", scale=yscale, axis=alt.Axis(title=ytitle, **y_axis_kw)),
        color=color,
    )
    return alt.layer(band, line).properties(
        width=w, height=h,
        title=alt.TitleParams(CAPTIONS[p], orient="bottom", font=SERIF, fontSize=16,
                              fontWeight="normal", color="black", offset=cap_offset, dx=cap_dx),
    )


H1 = 122
H2 = 126
pa = panel("a", [-0.045, 1.03], TICKS_10, 164, H1, "Test Win Rate", None, 19, -9)
pb = panel("b", [-0.04, 0.825], TICKS_08, 166, H1, None, "Steps (20k)", 4, -6)
pc = panel("c", [-0.05, 1.03], TICKS_10, 168, H1, None, None, 19, 5)
pd_ = panel("d", [-0.05, 1.03], TICKS_10, 164, H2, "Test Win Rate", None, 19, 0)
pe = panel("e", [-0.045, 1.03], TICKS_10, 166, H2, None, "Steps (20k)", 4, -12)
pf = panel("f", [-0.045, 0.92], TICKS_08, 168, H2, None, None, 19, 8)

row1 = alt.hconcat(pa, pb, pc, spacing=11).resolve_scale(x="independent", y="independent")
row2 = alt.hconcat(pd_, pe, pf, spacing=11).resolve_scale(x="independent", y="independent")
grid = alt.vconcat(row1, row2, spacing=2).resolve_scale(x="independent", y="independent")

leg_df = pd.DataFrame({"series": SERIES})
leg_y = alt.Y("series:N", sort=SERIES,
              scale=alt.Scale(type="point", domain=SERIES, padding=0.63), axis=None)
leg_rule = alt.Chart(leg_df).mark_rule(strokeWidth=3).encode(
    y=leg_y, x=alt.value(0), x2=alt.value(27),
    color=alt.Color("series:N", scale=color_scale, legend=None),
)
leg_text = alt.Chart(leg_df).mark_text(align="left", baseline="middle", font=SERIF,
                                       fontSize=17, color="black").encode(
    y=leg_y, x=alt.value(34), text="series:N",
)
legend = alt.layer(leg_rule, leg_text).properties(
    width=172, height=308, view=alt.ViewBackground(strokeOpacity=0)
)

chart = alt.hconcat(legend, grid, spacing=11).properties(padding=0).configure_view(
    stroke="#e3e3e3"
).configure(background="white")

chart.save("out.html", embed_options={"renderer": "svg", "actions": False})
